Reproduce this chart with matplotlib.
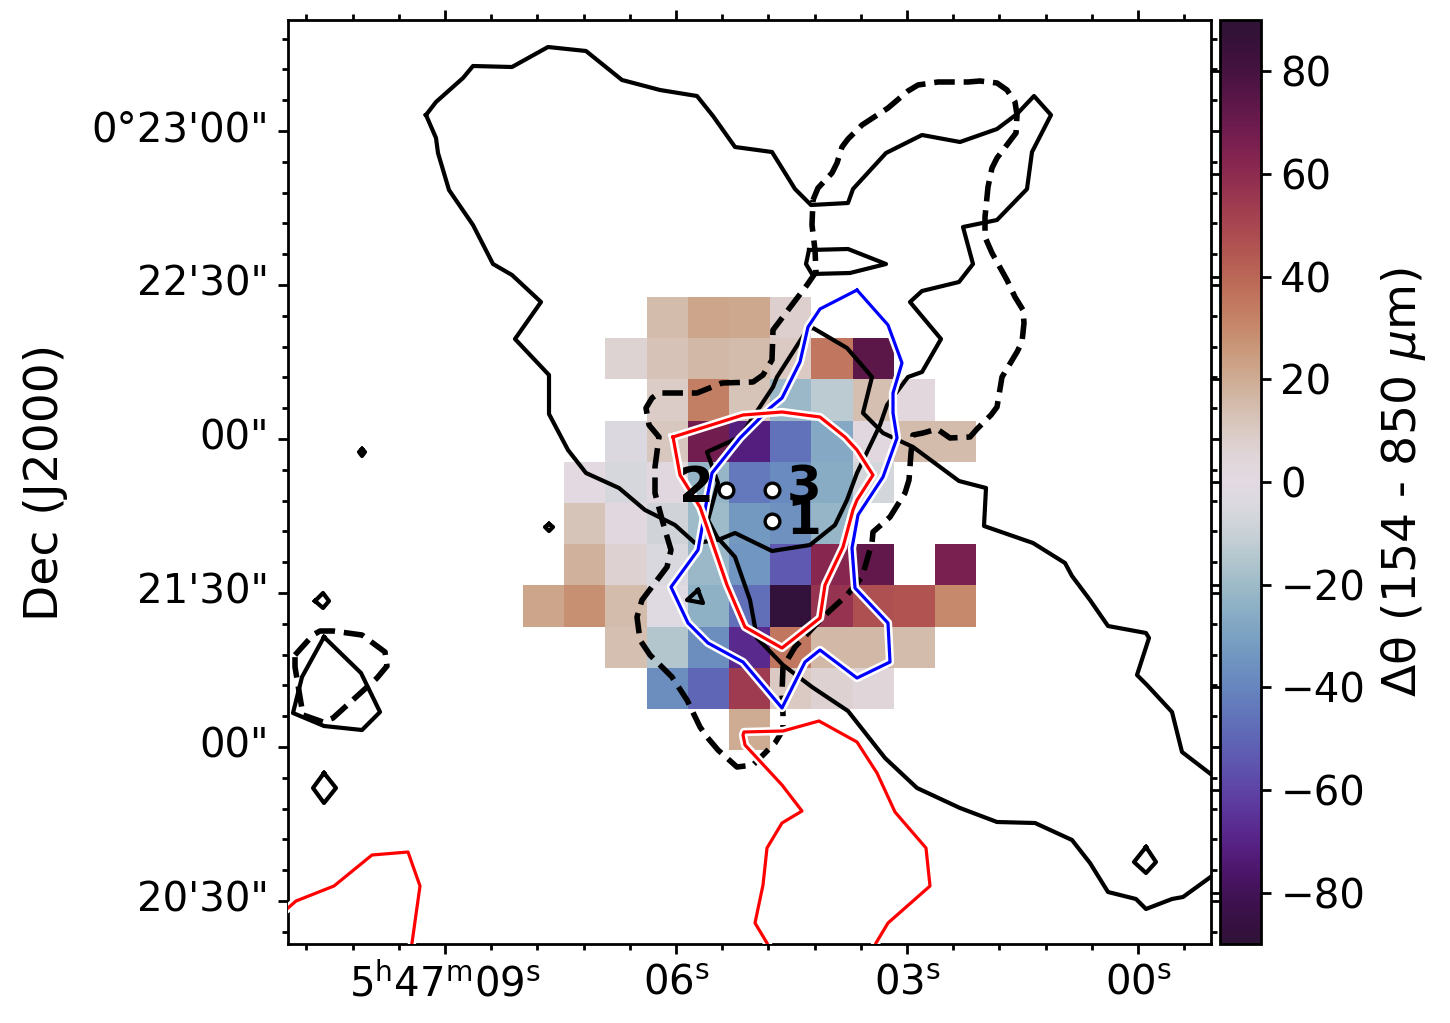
import numpy as np
import matplotlib
matplotlib.use('Agg')
import matplotlib.pyplot as plt
import matplotlib.patheffects as pe
from matplotlib.ticker import FixedLocator

# Map is drawn in image-pixel coordinates, like a WCS plot; sky ticks are mapped onto them
XLIM = (288, 1211)
YLIM = (944, 20)
CELL_X0 = 523
CELL_Y0 = 297
CELL = 41.2

nan = np.nan
# Angle difference map, one row per Dec step (top to bottom)
dtheta = np.array([
    [nan, nan, nan, 15, 22, 21, 8, nan, nan, nan, nan],
    [nan, nan, 6, 13, 16, 15, 10, 35, 74, nan, nan],
    [nan, nan, nan, 9, 33, 12, -21, -13, 14, 3, nan],
    [nan, nan, -4, 11, 68, -72, -46, -27, 2, 15, 15],
    [nan, 1, -6, 2, -22, -44, -38, -26, -7, nan, nan],
    [nan, 12, 2, -8, -20, -33, -36, -22, nan, nan, nan],
    [nan, 18, 7, -5, -21, -34, -54, 62, 72, nan, 66],
    [22, 28, 15, -2, -24, -47, -88, 57, 47, 46, 30],
    [nan, nan, 14, -15, -37, -68, 35, 16, 16, 15, nan],
    [nan, nan, nan, -37, -50, 54, 10, 7, 4, nan, nan],
    [nan, nan, nan, nan, nan, 20, nan, nan, nan, nan, nan],
])

# Black solid contours
solid_main = [
    (426, 115), (436, 102), (463, 78), (473, 66), (512, 67), (548, 47), (586, 51), (622, 80),
    (660, 90), (697, 96), (713, 116), (735, 147), (772, 152), (795, 189), (811, 205), (848, 203),
    (853, 189), (886, 153), (922, 135), (960, 142), (997, 129), (1017, 114), (1034, 96), (1051, 115),
    (1032, 152), (1027, 189), (997, 220), (963, 227), (973, 264), (959, 282), (922, 291), (910, 302),
    (941, 339), (922, 372), (908, 377), (887, 405), (880, 425), (857, 473), (847, 500), (835, 525),
    (810, 545), (772, 551), (735, 533), (718, 540), (695, 543), (675, 525), (645, 510), (619, 488),
    (586, 473), (568, 450), (549, 414), (549, 375), (515, 339), (541, 302), (512, 275), (493, 264),
    (473, 225), (449, 190), (438, 153), (436, 138), (426, 115),
]
solid_south = [
    (1212, 775), (1182, 752), (1172, 712), (1147, 685), (1137, 675), (1149, 638), (1146, 633),
    (1108, 626), (1090, 600), (1072, 576), (1065, 563), (1033, 543), (984, 526), (986, 488),
    (959, 481), (913, 447), (883, 433), (863, 413), (872, 377), (847, 348), (813, 328), (807, 330),
    (777, 377), (773, 387), (740, 437), (707, 452), (718, 483), (708, 520), (717, 537), (735, 557),
    (750, 600), (755, 627), (757, 638), (783, 665), (812, 687), (848, 711), (885, 758), (917, 788),
    (960, 808), (997, 822), (1035, 823), (1072, 840), (1090, 863), (1108, 892), (1136, 899),
    (1146, 909), (1172, 899), (1183, 897), (1212, 876),
]
solid_bar = [(809, 250), (848, 249), (886, 264), (850, 273), (812, 274), (806, 264), (809, 250)]
solid_blob = [(324, 637), (361, 673), (380, 712), (362, 730), (324, 726), (293, 713), (302, 677), (324, 637)]
solid_small = [
    [(315, 601), (323, 593), (329, 601), (323, 608), (315, 601)],
    [(324, 773), (336, 788), (324, 803), (313, 788), (324, 773)],
    [(1146, 847), (1156, 862), (1146, 873), (1134, 862), (1146, 847)],
    [(698, 590), (687, 600), (703, 603), (698, 590)],
    [(362, 449), (365, 452), (362, 456), (359, 452), (362, 449)],
    [(549, 524), (553, 527), (549, 531), (545, 527), (549, 524)],
]

# Black dashed contours
dashed_main = [
    (813, 200), (818, 188), (832, 173), (837, 163), (842, 147), (848, 139), (862, 125), (888, 108),
    (908, 91), (918, 85), (938, 82), (968, 82), (980, 81), (997, 83), (1007, 90), (1015, 102),
    (1017, 115), (1016, 133), (997, 158), (992, 168), (988, 187), (985, 217), (985, 237), (992, 253),
    (1007, 280), (1015, 297), (1023, 310), (1024, 323), (1022, 342), (1017, 352), (1002, 377),
    (997, 407), (991, 415), (977, 429), (970, 437), (950, 438), (937, 429), (923, 433), (913, 435),
    (911, 453), (909, 480), (905, 493), (890, 517), (873, 532), (872, 543), (862, 577), (847, 595),
    (823, 617), (795, 647), (783, 667), (782, 693), (783, 715), (783, 730), (775, 743), (753, 765),
    (737, 767), (718, 750), (707, 737), (700, 727), (687, 700), (672, 677), (650, 655), (640, 640),
    (637, 617), (642, 600), (667, 567), (671, 550), (663, 523), (655, 493), (655, 467), (659, 437),
    (649, 425), (646, 408), (652, 398), (659, 393), (697, 393), (722, 383), (753, 382), (763, 375),
    (772, 360), (773, 330), (807, 285), (816, 272), (815, 250), (812, 225), (813, 200),
]
dashed_blob = [
    (295, 655), (313, 635), (320, 631), (333, 631), (362, 635), (385, 652), (387, 666), (377, 678),
    (333, 718), (323, 722), (303, 715), (295, 667), (295, 655),
]

# Blue and red contours
blue_main = [
    (857, 290), (888, 325), (902, 363), (893, 393), (893, 413), (897, 438), (883, 477), (858, 515),
    (852, 548), (855, 588), (888, 623), (890, 662), (857, 678), (820, 650), (805, 662), (782, 708),
    (743, 662), (708, 643), (688, 623), (671, 587), (698, 550), (702, 528), (708, 493), (712, 473),
    (740, 438), (770, 408), (782, 398), (800, 362), (808, 327), (820, 309), (857, 290),
]
red_main = [
    (673, 437), (743, 415), (782, 412), (820, 417), (845, 437), (857, 450), (873, 475), (857, 500),
    (853, 510), (843, 547), (825, 585), (820, 618), (782, 648), (745, 627), (727, 585), (707, 527),
    (700, 507), (680, 475), (673, 437),
]
red_south = [
    (767, 943), (755, 923), (763, 885), (767, 848), (782, 823), (802, 811), (782, 785), (745, 745),
    (743, 735), (744, 732), (783, 731), (819, 721), (857, 742), (877, 773), (895, 812), (926, 848),
    (930, 886), (888, 923), (876, 943),
]
red_west = [(288, 908), (296, 901), (334, 886), (372, 855), (408, 852), (420, 886), (412, 943)]

# Source positions and labels
src_x = [772, 726, 772]
src_y = [521, 490, 490]
src_labels = ['1', '2', '3']
label_x = [804, 696, 804]
label_y = [520, 488, 488]

# Axis ticks, RA in seconds past 5h47m and Dec in arcsec from 0d21'30"
ra_major = [9, 6, 3, 0]
ra_major_labels = [r'$\mathdefault{5^{h}47^{m}09^{s}}$', r'$\mathdefault{06^{s}}$',
                   r'$\mathdefault{03^{s}}$', r'$\mathdefault{00^{s}}$']
dec_major = [90, 60, 30, 0, -30, -60]
dec_major_labels = ['0°23\'00"', '22\'30"', '00"', '21\'30"', '00"', '20\'30"']
cbar_ticks = [-80, -60, -40, -20, 0, 20, 40, 60, 80]


def ra_to_x(sec):
    return 445 + (9 - np.asarray(sec)) * 77.0


def dec_to_y(arcsec):
    return 593 - np.asarray(arcsec) * 154.0 / 30


def draw(ax, pts, **kw):
    xs, ys = zip(*pts)
    return ax.plot(xs, ys, **kw)


fig = plt.figure(figsize=(7.25, 5.115), dpi=200)
ax = fig.add_axes([288 / 1450, 79 / 1023, 923 / 1450, 924 / 1023])
cax = fig.add_axes([1220 / 1450, 79 / 1023, 41 / 1450, 924 / 1023])

x_edges = CELL_X0 + CELL * np.arange(dtheta.shape[1] + 1)
y_edges = CELL_Y0 + CELL * np.arange(dtheta.shape[0] + 1)
mesh = ax.pcolormesh(x_edges, y_edges, np.ma.masked_invalid(dtheta),
                     cmap='twilight_shifted', vmin=-90, vmax=90)

# Black contours
for pts in [solid_main, solid_south, solid_bar, solid_blob] + solid_small:
    draw(ax, pts, color='k', lw=1.5, zorder=3)
for pts in [dashed_main, dashed_blob]:
    draw(ax, pts, color='k', lw=2.0, ls='--', zorder=3)

# Coloured contours with a white halo
halo = [pe.Stroke(linewidth=3.0, foreground='white'), pe.Normal()]
draw(ax, blue_main, color='blue', lw=1.15, path_effects=halo, zorder=4)
for pts in [red_main, red_south, red_west]:
    draw(ax, pts, color='red', lw=1.15, path_effects=halo, zorder=4)

ax.scatter(src_x, src_y, s=28, c='white', edgecolors='k', linewidths=1.2, zorder=5)
for x, y, s in zip(label_x, label_y, src_labels):
    ax.text(x, y, s, fontsize=18, fontweight='bold', ha='center', va='center', zorder=6)

ax.set_xlim(*XLIM)
ax.set_ylim(*YLIM)
ax.set_xticks(ra_to_x(ra_major))
ax.set_xticklabels(ra_major_labels)
ax.set_yticks(dec_to_y(dec_major))
ax.set_yticklabels(dec_major_labels, va='center')
ax.xaxis.set_minor_locator(FixedLocator(445 + 46.2 * np.arange(-4, 17)))
ax.yaxis.set_minor_locator(FixedLocator(131 + 30.8 * np.arange(-3, 27)))
ax.tick_params(which='both', direction='out', top=True, right=True, width=1.0, labelsize=14.5)
ax.tick_params(which='major', length=3.5)
ax.tick_params(which='minor', length=2)
for sp in ax.spines.values():
    sp.set_linewidth(1.0)
ax.set_ylabel('Dec (J2000)', fontsize=17)
ax.yaxis.set_label_coords(-0.2385, 0.5)

cbar = fig.colorbar(mesh, cax=cax, ticks=cbar_ticks)
cbar.ax.tick_params(direction='out', left=True, right=True, width=1.0, length=3.5, labelsize=14.5)
cbar.outline.set_linewidth(1.0)
cbar.set_label(r'Δθ (154 - 850 $\mu$m)', fontsize=17, labelpad=5)

fig.savefig('out.png', dpi=200)
